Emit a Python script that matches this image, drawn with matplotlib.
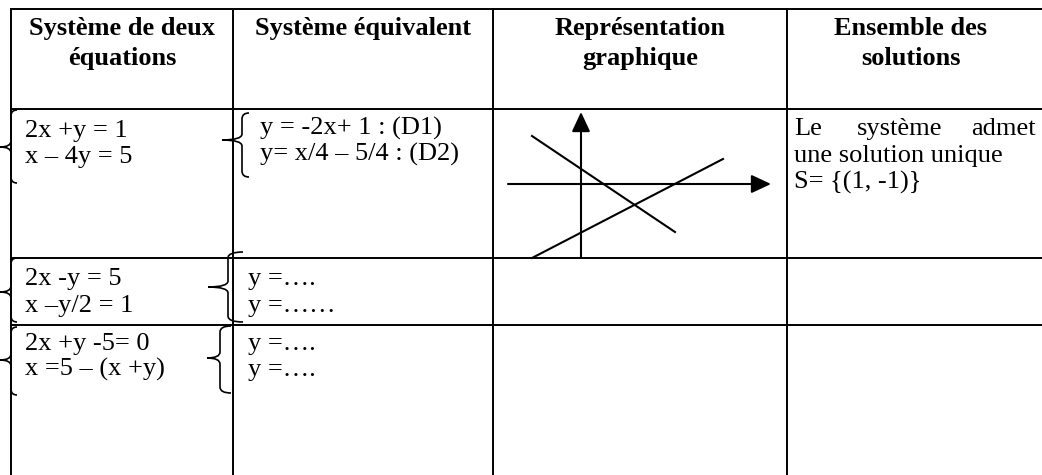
"""Tableau : systèmes de deux équations, systèmes équivalents, représentation graphique."""
import matplotlib
matplotlib.use("Agg")
import matplotlib.pyplot as plt
from matplotlib.path import Path
from matplotlib.patches import PathPatch

plt.rcParams["font.family"] = ["Liberation Serif", "DejaVu Serif"]

W, H = 1042, 475

# grille du tableau (pixels)
COL_X = [11, 233, 493, 787]
ROW_Y = [9, 109, 258, 325]
TABLE_RIGHT = W
TABLE_BOTTOM = H

HEADERS = [
    ["Système de deux", "équations"],
    ["Système équivalent"],
    ["Représentation", "graphique"],
    ["Ensemble des", "solutions"],
]

SYSTEMS = [
    ["2x +y = 1", "x \u2013 4y = 5"],
    ["2x -y = 5", "x \u2013y/2 = 1"],
    ["2x +y -5= 0", "x =5 \u2013 (x +y)"],
]
EQUIVALENTS = [
    ["y = -2x+ 1 : (D1)", "y= x/4 \u2013 5/4 : (D2)"],
    ["y =\u2026.", "y =\u2026\u2026"],
    ["y =\u2026.", "y =\u2026."],
]
SOLUTION_LINES = [["Le", "système", "admet"], ["une solution unique"], ["S= {(1, -1)}"]]

# accolades : (x gauche, x milieu, x droite, y haut, y pointe, y bas)
BRACES = [
    (0, 11, 17, 110, 147, 183),
    (222, 242, 249, 113, 140, 177),
    (0, 11, 17, 258, 292, 322),
    (208, 228, 243, 252, 287, 322),
    (0, 11, 17, 327, 360, 395),
    (207, 220, 231, 326, 358, 393),
]

# croquis : axes et droites (D1), (D2)
AXIS_Y = (581, 258, 112)
AXIS_X = (508, 771, 184)
D1 = [(532, 136), (675, 232)]
D2 = [(532, 258), (723, 159)]


def brace(ax, xl, xm, xr, yt, ym, yb, r=6):
    verts = [(xr, yt), (xm, yt), (xm, yt + r),
             (xm, ym - r),
             (xm, ym), (xl, ym),
             (xm, ym), (xm, ym + r),
             (xm, yb - r),
             (xm, yb), (xr, yb)]
    codes = [Path.MOVETO, Path.CURVE3, Path.CURVE3,
             Path.LINETO,
             Path.CURVE3, Path.CURVE3,
             Path.CURVE3, Path.CURVE3,
             Path.LINETO,
             Path.CURVE3, Path.CURVE3]
    ax.add_patch(PathPatch(Path(verts, codes), fill=False, lw=1.2, color="black"))


def main():
    fig = plt.figure(figsize=(W / 100, H / 100), dpi=100)
    ax = fig.add_axes([0, 0, 1, 1])
    ax.set_xlim(0, W)
    ax.set_ylim(H, 0)
    ax.axis("off")

    lw = 1.4
    for x in COL_X:
        ax.plot([x, x], [ROW_Y[0], TABLE_BOTTOM], color="black", lw=lw)
    for y in ROW_Y:
        ax.plot([COL_X[0], TABLE_RIGHT], [y, y], color="black", lw=lw)

    col_right = COL_X[1:] + [1035]
    fs_head, fs_body = 19, 19
    for i, lines in enumerate(HEADERS):
        cx = (COL_X[i] + col_right[i]) / 2
        for j, t in enumerate(lines):
            ax.text(cx, 35 + 30 * j, t, ha="center", va="baseline",
                    fontsize=fs_head, fontweight="bold")

    sys_base = [[137, 163], [285, 312], [350, 376]]
    for i, (lines, base) in enumerate(zip(SYSTEMS, sys_base)):
        for t, y in zip(lines, base):
            ax.text(25, y, t, ha="left", va="baseline", fontsize=fs_body)
    eq_x = [260, 248, 248]
    for i, (lines, base) in enumerate(zip(EQUIVALENTS, sys_base)):
        for t, y in zip(lines, base):
            ax.text(eq_x[i], y - 2 if i == 0 else y, t, ha="left", va="baseline",
                    fontsize=fs_body)

    # cellule solution (texte justifié sur la première ligne)
    sx = 794
    words = SOLUTION_LINES[0]
    ax.text(sx, 135, words[0], ha="left", va="baseline", fontsize=fs_body)
    ax.text(857, 135, words[1], ha="left", va="baseline", fontsize=fs_body)
    ax.text(1036, 135, words[2], ha="right", va="baseline", fontsize=fs_body)
    ax.text(sx, 162, SOLUTION_LINES[1][0], ha="left", va="baseline", fontsize=fs_body)
    ax.text(sx, 189, SOLUTION_LINES[2][0], ha="left", va="baseline", fontsize=fs_body)

    for b in BRACES:
        brace(ax, *b)

    arrow = dict(arrowstyle="-|>,head_length=0.6,head_width=0.28",
                 mutation_scale=20, lw=1.5, color="black",
                 shrinkA=0, shrinkB=0)
    ax.annotate("", xy=(AXIS_Y[0], AXIS_Y[2]), xytext=(AXIS_Y[0], AXIS_Y[1]),
                arrowprops=arrow)
    ax.annotate("", xy=(AXIS_X[1], AXIS_X[2]), xytext=(AXIS_X[0], AXIS_X[2]),
                arrowprops=arrow)
    for d in (D1, D2):
        ax.plot([p[0] for p in d], [p[1] for p in d], color="black", lw=1.5)

    fig.savefig("out.png", dpi=100, facecolor="white")
    plt.close(fig)


if __name__ == "__main__":
    main()
